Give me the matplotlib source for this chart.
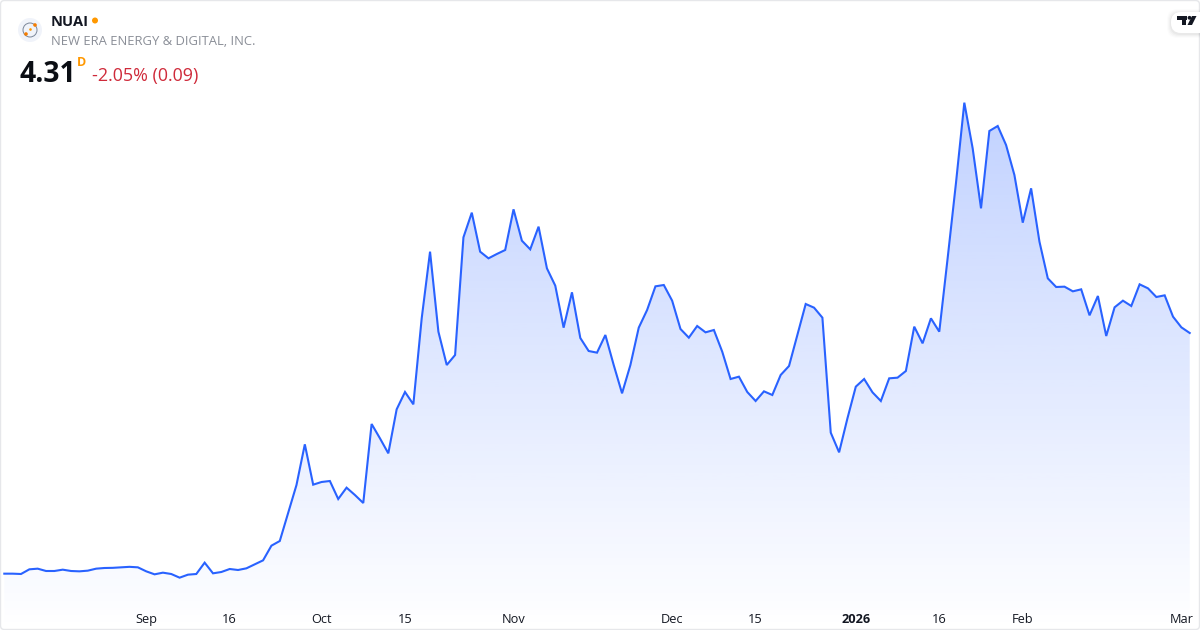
import numpy as np
from matplotlib import pyplot as plt
from matplotlib.patches import Circle, FancyBboxPatch, Polygon, Rectangle

# daily close
closes = [
    1.422, 1.422, 1.418, 1.474, 1.482, 1.454, 1.454, 1.470, 1.454, 1.450,
    1.458, 1.482, 1.490, 1.492, 1.498, 1.504, 1.498, 1.450, 1.414, 1.434,
    1.418, 1.374, 1.410, 1.418, 1.554, 1.426, 1.442, 1.478, 1.466, 1.486,
    1.534, 1.582, 1.758, 1.814, 2.150, 2.486, 2.974, 2.490, 2.522, 2.534,
    2.318, 2.454, 2.366, 2.270, 3.218, 3.046, 2.866, 3.394, 3.602, 3.454,
    4.486, 5.286, 4.326, 3.926, 4.046, 5.458, 5.754, 5.286, 5.206, 5.258,
    5.306, 5.794, 5.418, 5.314, 5.586, 5.086, 4.878, 4.374, 4.798, 4.250,
    4.094, 4.074, 4.286, 3.926, 3.586, 3.926, 4.374, 4.586, 4.870, 4.886,
    4.698, 4.358, 4.254, 4.394, 4.318, 4.346, 4.086, 3.758, 3.786, 3.602,
    3.494, 3.610, 3.566, 3.806, 3.914, 4.286, 4.658, 4.614, 4.494, 3.114,
    2.878, 3.286, 3.666, 3.758, 3.598, 3.494, 3.766, 3.774, 3.854, 4.386,
    4.186, 4.486, 4.326, 5.206, 6.110, 7.074, 6.526, 5.806, 6.734, 6.794,
    6.566, 6.206, 5.634, 6.046, 5.406, 4.966, 4.862, 4.866, 4.810, 4.834,
    4.522, 4.754, 4.274, 4.618, 4.698, 4.634, 4.894, 4.846, 4.742, 4.762,
    4.506, 4.378, 4.310,
]
tick_pos = [17, 27, 38, 48, 61, 80, 90, 102, 112, 122, 141]
tick_labels = ["Sep", "16", "Oct", "15", "Nov", "Dec", "15", "2026", "16", "Feb", "Mar"]

symbol = "NUAI"
company = "NEW ERA ENERGY & DIGITAL, INC."
last_price = "4.31"
change = "-2.05% (0.09)"

LINE = "#2962ff"
FONT = "Open Sans"
plt.rcParams["font.family"] = [FONT, "DejaVu Sans"]

fig = plt.figure(figsize=(12, 6.3), dpi=100, facecolor="white")
ax = fig.add_axes([0, 0, 1, 1])
xs = np.arange(len(closes))

# gradient under the line, clipped to the area
top = max(closes)
grad = np.zeros((256, 1, 4))
grad[:, :, :3] = np.array([41, 98, 255]) / 255
grad[:, 0, 3] = np.linspace(0.29, 0.0, 256)
im = ax.imshow(grad, extent=[xs[0], xs[-1], 0.746, top], aspect="auto", origin="upper", zorder=1)
area = ax.fill_between(xs, closes, 0.746, color="none")
im.set_clip_path(area.get_paths()[0], transform=ax.transData)
ax.set_xlim(-4.3 / 8.348, 1195.7 / 8.348)
ax.set_ylim(0.746, 8.306)

ax.plot(xs, closes, color=LINE, lw=1.5, zorder=2, solid_joinstyle="miter")

ax.set_yticks([])
ax.set_xticks(tick_pos)
ax.set_xticklabels(tick_labels, fontsize=9.2, color="#131722")
ax.tick_params(axis="x", length=0, pad=-12.2)
for lab in ax.get_xticklabels():
    if lab.get_text() == "2026":
        lab.set_fontweight("bold")
for s in ax.spines.values():
    s.set_visible(False)

# overlay in pixels for header, logos and frame
ov = fig.add_axes([0, 0, 1, 1], facecolor="none")
ov.set_xlim(0, 1200)
ov.set_ylim(630, 0)
ov.axis("off")

ov.add_patch(FancyBboxPatch((0.5, 0.5), 1199, 629, boxstyle="round,pad=0,rounding_size=4",
                            fc="none", ec="#e6e7ea", lw=1.0))

ov.add_patch(Circle((30, 30), 12, fc="#f0f3fa", ec="none"))
ov.add_patch(Circle((30, 30), 7, fc="none", ec="#7a8699", lw=0.7))
ov.add_patch(Circle((30.5, 29.5), 1.3, fc="#ff9800", ec="none"))
ov.add_patch(Circle((35, 25), 1.8, fc="#f57c00", ec="none"))
ov.add_patch(Circle((26, 34), 1.8, fc="#f57c00", ec="none"))

ov.text(51, 21.5, symbol, fontsize=10.5, fontweight="bold", color="#131722", va="center")
ov.add_patch(Circle((95, 20.5), 3, fc="#ff9800", ec="none"))
ov.text(51, 41.5, company, fontsize=9.4, color="#8a8e97", va="center")
ov.text(19, 74, last_price, fontsize=20.3, fontweight="bold", color="#0b0e14", va="center")
ov.text(77, 62.5, "D", fontsize=9, fontweight="bold", color="#ff9800", va="center")
ov.text(92, 76, change, fontsize=12.9, color="#cf2a3a", va="center")

# tradingview badge
for off, a in ((4, 0.012), (3, 0.018), (2, 0.024), (1, 0.03)):
    ov.add_patch(FancyBboxPatch((1171 - off, 12 - off + 1), 40 + 2 * off, 21 + 2 * off,
                                boxstyle="round,pad=0,rounding_size=10", fc="black", ec="none", alpha=a))
ov.add_patch(FancyBboxPatch((1171, 12), 40, 21, boxstyle="round,pad=0,rounding_size=10", fc="white", ec="none"))
ov.add_patch(Rectangle((1177, 16), 10, 3.6, fc="#131722", ec="none"))
ov.add_patch(Rectangle((1181.5, 16), 4.6, 9, fc="#131722", ec="none"))
ov.add_patch(Circle((1189.5, 17.8), 1.9, fc="#131722", ec="none"))
ov.add_patch(Polygon([(1192, 16), (1196.5, 16), (1192, 25), (1187.5, 25)], fc="#131722", ec="none"))

fig.savefig("out.png", dpi=100)
